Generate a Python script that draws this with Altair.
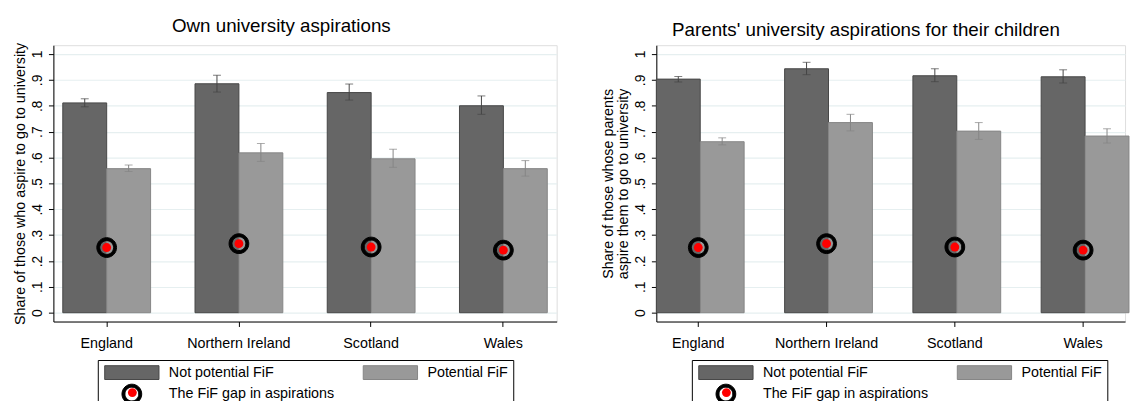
import altair as alt
import pandas as pd

FONT = "Liberation Sans"

countries = ["England", "Northern Ireland", "Scotland", "Wales"]
series = ["Not potential FiF", "Potential FiF"]
gap_label = "The FiF gap in aspirations"
legend_domain = series + [gap_label]
y_ticks = [0, 0.1, 0.2, 0.3, 0.4, 0.5, 0.6, 0.7, 0.8, 0.9, 1]

# Left panel: own aspirations
own_not = [0.811, 0.885, 0.851, 0.800]
own_not_lo = [0.796, 0.853, 0.822, 0.767]
own_not_hi = [0.827, 0.918, 0.884, 0.838]
own_pot = [0.557, 0.618, 0.595, 0.557]
own_pot_lo = [0.546, 0.585, 0.562, 0.528]
own_pot_hi = [0.571, 0.654, 0.632, 0.588]
own_gap = [0.252, 0.267, 0.254, 0.242]

# Right panel: parents' aspirations
par_not = [0.903, 0.943, 0.916, 0.912]
par_not_lo = [0.892, 0.920, 0.893, 0.888]
par_not_hi = [0.913, 0.968, 0.943, 0.939]
par_pot = [0.661, 0.735, 0.702, 0.683]
par_pot_lo = [0.649, 0.703, 0.670, 0.656]
par_pot_hi = [0.676, 0.767, 0.735, 0.711]
par_gap = [0.252, 0.267, 0.254, 0.242]

SYM_SIZE = 196  # symbol unit = 7 px
RECT = "M-3.93,-1H3.93V1H-3.93Z"
RING = ("M1.43,0A1.43,1.43,0,1,1,-1.43,0A1.43,1.43,0,1,1,1.43,0Z"
        "M1,0A1,1,0,1,0,-1,0A1,1,0,1,0,1,0Z")
fill_range = ["#666666", "#999999", "#000000"]
stroke_range = ["#464646", "#858585", "#000000"]
err_colors = ["#444444", "#858585"]


def panel(title, ytitle, nv, nlo, nhi, pv, plo, phi, gap, width, pin, pout,
          title_offset, title_dx, leg_x, leg_y):
    rows = []
    for i, c in enumerate(countries):
        rows.append(dict(country=c, series=series[0], value=nv[i], lo=nlo[i], hi=nhi[i]))
        rows.append(dict(country=c, series=series[1], value=pv[i], lo=plo[i], hi=phi[i]))
    bdf = pd.DataFrame(rows)
    gdf = pd.DataFrame(dict(country=countries, gap=gap, series=[gap_label] * 4))

    x = alt.X("country:N", sort=countries, title=None,
              scale=alt.Scale(paddingInner=pin, paddingOuter=pout),
              axis=alt.Axis(labelAngle=0, labelFont=FONT, labelFontSize=14.5,
                            labelColor="black", domainColor="black", tickColor="black",
                            tickSize=5, labelPadding=10, grid=False))
    xo = alt.XOffset("series:N", sort=series,
                     scale=alt.Scale(domain=series, paddingInner=0, paddingOuter=0))
    yscale = alt.Scale(domain=[-0.034, 1.034], nice=False, zero=False)
    yaxis = alt.Axis(values=y_ticks, labelAngle=270, labelAlign="center",
                     labelBaseline="bottom", labelPadding=4,
                     labelExpr="datum.value == 0 ? '0' : datum.value == 1 ? '1' : replace(format(datum.value, '.1f'), '0.', '.')",
                     labelFont=FONT, labelFontSize=14, labelColor="black",
                     titleFont=FONT, titleFontSize=14.5, titleFontWeight="normal",
                     titleColor="black", titlePadding=3, titleLineHeight=15,
                     domainColor="black", tickColor="black", tickSize=5,
                     grid=True, gridColor="#e6eff0", gridWidth=1.2)

    def Y(field):
        return alt.Y(field, title=ytitle, scale=yscale, axis=yaxis)

    leg = alt.Legend(title=None, orient="none", legendX=leg_x, legendY=leg_y,
                     direction="horizontal", columns=2, columnPadding=26, rowPadding=0,
                     padding=5, strokeColor="black", fillColor="white",
                     labelFont=FONT, labelFontSize=14.5, labelColor="black", labelLimit=400,
                     labelOffset=30, symbolOffset=22, symbolSize=SYM_SIZE,
                     symbolStrokeWidth=1, symbolOpacity=1)

    fill = alt.Fill("series:N", scale=alt.Scale(domain=legend_domain, range=fill_range), legend=leg)
    stroke = alt.Stroke("series:N", scale=alt.Scale(domain=legend_domain, range=stroke_range), legend=leg)

    bars = alt.Chart(bdf).mark_bar(strokeWidth=1).encode(
        x=x, xOffset=xo, y=Y("value:Q"), fill=fill, stroke=stroke)

    layers = [bars]
    for s, col in zip(series, err_colors):
        base = alt.Chart(bdf).transform_filter(alt.datum.series == s)
        layers.append(base.mark_rule(color=col, strokeWidth=1).encode(
            x=x, xOffset=xo, y=Y("lo:Q"), y2="hi:Q"))
        layers.append(base.mark_tick(color=col, size=8, thickness=1, orient="horizontal").encode(
            x=x, xOffset=xo, y=Y("lo:Q")))
        layers.append(base.mark_tick(color=col, size=8, thickness=1, orient="horizontal").encode(
            x=x, xOffset=xo, y=Y("hi:Q")))

    ring = alt.Chart(gdf).mark_point(opacity=1, size=SYM_SIZE, strokeWidth=1, filled=True).encode(
        x=x, y=Y("gap:Q"), fill=fill, stroke=stroke,
        shape=alt.Shape("series:N", scale=alt.Scale(domain=legend_domain, range=[RECT, RECT, RING]), legend=leg),
    )
    dot = alt.Chart(gdf).mark_circle(color="red", size=81, opacity=1).encode(
        x=x, y=Y("gap:Q"),
        opacity=alt.Opacity("series:N", scale=alt.Scale(domain=[gap_label], range=[1]),
                            legend=alt.Legend(title=None, orient="none", legendX=leg_x + 30,
                                              legendY=leg_y + 28,
                                              labelExpr="''", symbolType="circle", symbolFillColor="red",
                                              symbolSize=81, symbolStrokeWidth=0, padding=0,
                                              labelOffset=0)))
    layers += [ring, dot]

    return alt.layer(*layers).properties(
        width=width, height=280,
        title=alt.TitleParams(title, font=FONT, fontSize=19, fontWeight="normal", color="black",
                              anchor="middle", dx=title_dx, offset=title_offset, baseline="alphabetic",
                              frame="group"),
    )


left = panel("Own university aspirations", "Share of those who aspire to go to university",
             own_not, own_not_lo, own_not_hi, own_pot, own_pot_lo, own_pot_hi, own_gap,
             510, 0.336, 0.071, -9, -24, 45, 319)
right = panel("Parents' university aspirations for their children",
              ["Share of those whose parents", "aspire them to go to university"],
              par_not, par_not_lo, par_not_hi, par_pot, par_pot_lo, par_pot_hi, par_gap,
              475, 0.346, 0.0, -10, -25, 36, 319)

res = dict(fill="independent", stroke="independent", shape="independent", opacity="independent")
chart = alt.hconcat(left, right, spacing=43).resolve_scale(
    x="independent", y="independent", **res).resolve_legend(**res).properties(
    padding={"left": 4, "top": 6, "right": 0, "bottom": 0}
).configure_view(strokeWidth=0).configure(background="white")

chart.save("out.html", embed_options={"renderer": "svg", "actions": False})
